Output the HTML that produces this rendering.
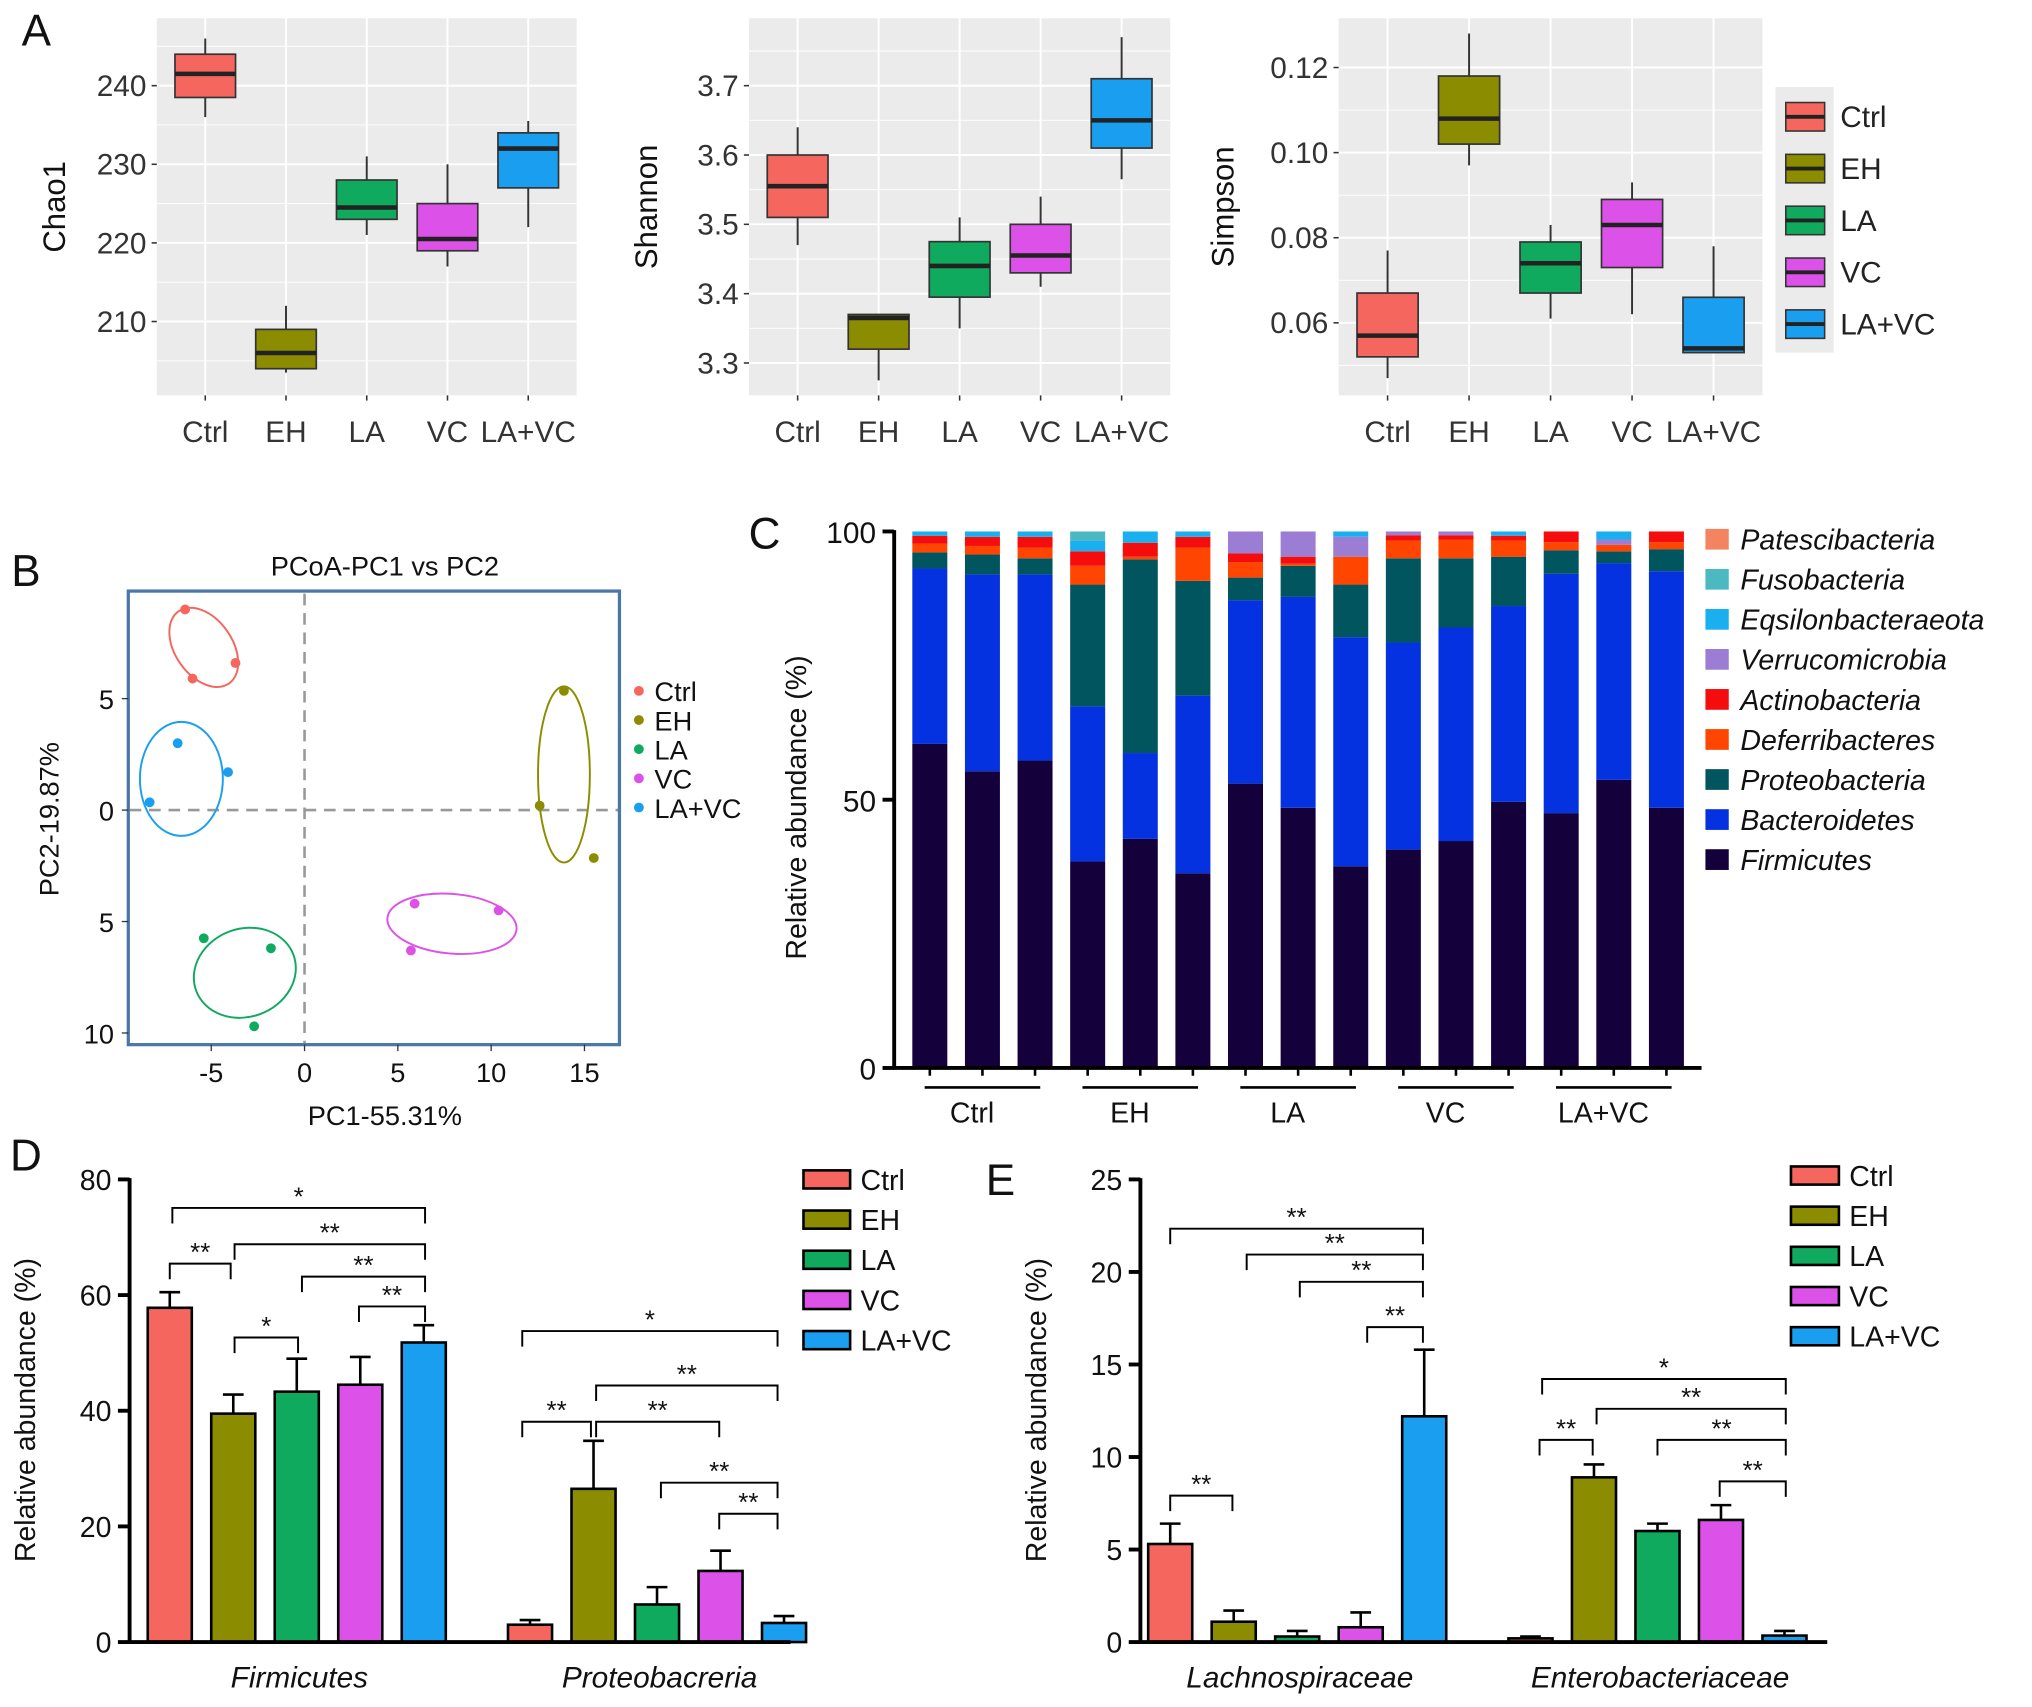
<!DOCTYPE html>
<html><head><meta charset="utf-8"><style>
html,body{margin:0;padding:0;background:#fff}
svg{display:block;font-family:"Liberation Sans",sans-serif}
</style></head><body>
<svg id="fig" width="2032" height="1707" viewBox="0 0 1568 1317" xmlns="http://www.w3.org/2000/svg"></svg>
<script>
// ---------- DATA ----------
const groups=["Ctrl","EH","LA","VC","LA+VC"];
const groupColors=["#f4665e","#8c8c00","#0faa5e","#dc52e8","#1a9ff0"];
// Panel A boxplots: [lo,q1,med,q3,hi]
const chao1=[[236,238.5,241.5,244,246],[203.5,204,206,209,212],[221,223,224.5,228,231],[217,219,220.5,225,230],[222,227,232,234,235.5]];
const shannon=[[3.47,3.51,3.555,3.60,3.64],[3.275,3.32,3.365,3.37,3.37],[3.35,3.395,3.44,3.475,3.51],[3.41,3.43,3.455,3.50,3.54],[3.565,3.61,3.65,3.71,3.77]];
const simpson=[[0.047,0.052,0.057,0.067,0.077],[0.097,0.102,0.108,0.118,0.128],[0.061,0.067,0.074,0.079,0.083],[0.062,0.073,0.083,0.089,0.093],[0.053,0.053,0.054,0.066,0.078]];
const chaoTicks=[210,220,230,240];
const shannonTicks=[3.3,3.4,3.5,3.6,3.7];
const simpsonTicks=[0.06,0.08,0.10,0.12];
// Panel B PCoA points [pc1,pc2]
const pcoaCtrl=[[-6.4,9.0],[-6.0,5.9],[-3.7,6.6]];
const pcoaEH=[[13.9,5.35],[12.6,0.2],[15.5,-2.15]];
const pcoaLA=[[-5.4,-5.75],[-1.8,-6.2],[-2.7,-9.7]];
const pcoaVC=[[5.9,-4.2],[10.4,-4.5],[5.7,-6.3]];
const pcoaLAVC=[[-6.8,3.0],[-4.1,1.7],[-8.3,0.35]];
const pcoaCenters=[[-5.4,7.3],[13.9,1.6],[-3.2,-7.3],[7.9,-5.1],[-6.6,1.4]];
const pcXTicks=[-5,0,5,10,15];
const pcYTicks=[5,0,-5,-10];
// Panel C stacked
const phyla=["Firmicutes","Bacteroidetes","Proteobacteria","Deferribacteres","Actinobacteria","Verrucomicrobia","Eqsilonbacteraeota","Fusobacteria","Patescibacteria"];
const phylaColors=["#14003a","#0532e0","#00555f","#ff4500","#f50c0c","#9b7dd4","#1ab0f0","#4bb8c2","#f4845f"];
const firmicutes=[60.4,55.3,57.3,38.5,42.7,36.3,53,48.5,37.6,40.7,42.3,49.6,47.5,53.7,48.5];
const bacteroidetes=[32.7,36.7,34.7,28.9,16,33.1,34.2,39.3,42.7,38.6,39.8,36.5,44.6,40.4,44.1];
const proteobacteria=[3,3.7,3,22.7,36.1,21.4,4.2,5.8,9.8,15.7,12.9,9.2,4.4,2.2,4.1];
const deferribacteres=[1.6,1.6,2,3.5,0.5,6.2,2.9,0.4,5.2,3.3,3.5,3,1.5,1.2,1.3];
const actinobacteria=[1.5,1.7,2,2.7,2.6,2,1.6,1.3,0,1,0.8,0.9,2,0,2];
const verrucomicrobia=[0,0,0,0,0,0,4.1,4.7,3.7,0.7,0.7,0,0,1,0];
const eqsilon=[0.8,1,1,2,2.1,1,0,0,1,0,0,0.8,0,1.5,0];
const fusobacteria=[0,0,0,1.7,0,0,0,0,0,0,0,0,0,0,0];
const patescibacteria=[0,0,0,0,0,0,0,0,0,0,0,0,0,0,0];
const cTicks=[0,50,100];
// Panel D
const dFirm=[57.8,39.5,43.3,44.5,51.8], dFirmErr=[60.5,42.8,49,49.3,54.8];
const dProt=[3.0,26.5,6.5,12.3,3.3], dProtErr=[3.8,34.8,9.5,15.8,4.5];
const dTicks=[0,20,40,60,80];
// Panel E
const eLach=[5.3,1.1,0.3,0.8,12.2], eLachErr=[6.4,1.7,0.6,1.6,15.8];
const eEnt=[0.2,8.9,6.0,6.6,0.35], eEntErr=[0.3,9.6,6.4,7.4,0.6];
const eTicks=[0,5,10,15,20,25];

// ---------- HELPERS ----------
const NS="http://www.w3.org/2000/svg";
const svg=document.getElementById("fig");
function mk(tag,attrs,parent){const e=document.createElementNS(NS,tag);for(const k in attrs)e.setAttribute(k,attrs[k]);(parent||svg).appendChild(e);return e;}
function tx(s,x,y,size,anchor,parent,extra){const e=mk("text",Object.assign({x:x,y:y,"font-size":size,"text-anchor":anchor||"middle",fill:"#111"},extra||{}),parent);e.textContent=s;return e;}
function lin(vA,pA,vB,pB){return v=>pA+(v-vA)*(pB-pA)/(vB-vA);}

[["A",28,35],["B",20,452],["C",590,423],["D",20,903],["E",772,922]].forEach(p=>{
  const t=tx(p[0],p[1],p[2],34,"middle");
  
  
});

// ---------- PANEL A ----------
function boxPanel(name,x0,x1,y0,y1,sc,ticks,minor,data,fmt,title,titleX){
  const g=mk("g",{});
  
  
  const bg=mk("rect",{x:x0,y:y0,width:x1-x0,height:y1-y0,fill:"#ebebeb"},g);
  
  
  minor.forEach(v=>{if(sc(v)>y0&&sc(v)<y1)mk("line",{x1:x0,x2:x1,y1:sc(v),y2:sc(v),stroke:"#fff","stroke-width":0.7},g);});
  const step=(x1-x0)/5.2;
  const cx=i=>x0+0.6*step+i*step;
  ticks.forEach(v=>{
    mk("line",{x1:x0,x2:x1,y1:sc(v),y2:sc(v),stroke:"#fff","stroke-width":1.5},g);
    mk("line",{x1:x0-4,x2:x0,y1:sc(v),y2:sc(v),stroke:"#333","stroke-width":1.2},g);
    const t=tx(fmt(v),x0-8,sc(v)+8,23,"end",g,{fill:"#333"});
    
    
  });
  groups.forEach((gr,i)=>{
    mk("line",{x1:cx(i),x2:cx(i),y1:y0,y2:y1,stroke:"#fff","stroke-width":1.5},g);
    mk("line",{x1:cx(i),x2:cx(i),y1:y1,y2:y1+4,stroke:"#333","stroke-width":1.2},g);
    const t=tx(gr,cx(i),y1+36,23,"middle",g,{fill:"#333"});
    
    
  });
  data.forEach((d,i)=>{
    const w=step*0.75,x=cx(i);
    mk("line",{x1:x,x2:x,y1:sc(d[0]),y2:sc(d[4]),stroke:"#333","stroke-width":1.5},g);
    const b=mk("rect",{x:x-w/2,y:sc(d[3]),width:w,height:sc(d[1])-sc(d[3]),fill:groupColors[i],stroke:"#333","stroke-width":1.3},g);
    
    
    mk("line",{x1:x-w/2,x2:x+w/2,y1:sc(d[2]),y2:sc(d[2]),stroke:"#222","stroke-width":3.5},g);
  });
  const tt=tx(title,titleX,(y0+y1)/2,24,"middle",g,{transform:`rotate(-90 ${titleX} ${(y0+y1)/2})`});
  
  
}
boxPanel("chao1",121,445,14,305,lin(240,66,210,248),chaoTicks,[205,215,225,235,245],chao1,v=>String(v),"Chao1",50);
boxPanel("shannon",578,903,14,305,lin(3.7,66,3.3,280),shannonTicks,[3.25,3.35,3.45,3.55,3.65,3.75],shannon,v=>v.toFixed(1),"Shannon",507);
boxPanel("simpson",1033,1360,14,305,lin(0.12,52,0.06,249),simpsonTicks,[0.05,0.07,0.09,0.11],simpson,v=>v.toFixed(2),"Simpson",952);
const legA=mk("g",{});


mk("rect",{x:1370,y:67,width:45,height:205,fill:"#ebebeb"},legA);
groups.forEach((gr,i)=>{
  const y=90+i*40;
  const r=mk("rect",{x:1378,y:y-11,width:30,height:22,fill:groupColors[i],stroke:"#333","stroke-width":1.2},legA);
  
  
  mk("line",{x1:1378,x2:1408,y1:y,y2:y,stroke:"#222","stroke-width":3},legA);
  const t=tx(gr,1420,y+8,23,"start",legA,{fill:"#222"});
  
  
});

// ---------- PANEL B ----------
const bx=lin(0,235,15,451), by=lin(0,625,5,539);
const gB=mk("g",{});


const tB=tx("PCoA-PC1 vs PC2",297,444,21,"middle",gB);


mk("line",{x1:bx(0),x2:bx(0),y1:458,y2:805,stroke:"#999","stroke-width":2,"stroke-dasharray":"9,6"},gB);
mk("line",{x1:100,x2:477,y1:by(0),y2:by(0),stroke:"#999","stroke-width":2,"stroke-dasharray":"9,6"},gB);
const frame=mk("rect",{x:99,y:456,width:379,height:350,fill:"none",stroke:"#4a76a8","stroke-width":2.5},gB);


pcXTicks.forEach(v=>{mk("line",{x1:bx(v),x2:bx(v),y1:806,y2:811,stroke:"#333"},gB);
  const t=tx(String(v),bx(v),835,21,"middle",gB);
  
  });
pcYTicks.forEach(v=>{mk("line",{x1:94,x2:99,y1:by(v),y2:by(v),stroke:"#333"},gB);
  const t=tx(String(Math.abs(v)),88,by(v)+8,21,"end",gB);
  
  });
const xt=tx("PC1-55.31%",297,868,21,"middle",gB);


const yt=tx("PC2-19.87%",45,632,21,"middle",gB,{transform:"rotate(-90 45 632)"});


const ellShape=[[22,34,-35],[20,68,0],[40,34,-20],[50,23,5],[32,44,0]];
const pcoaSets=[pcoaCtrl,pcoaEH,pcoaLA,pcoaVC,pcoaLAVC];
pcoaSets.forEach((pts,i)=>{
  const c=pcoaCenters[i],s=ellShape[i];
  const e=mk("ellipse",{cx:bx(c[0]),cy:by(c[1]),rx:s[0],ry:s[1],fill:"none",stroke:groupColors[i],"stroke-width":1.5,transform:`rotate(${s[2]} ${bx(c[0])} ${by(c[1])})`},gB);
  
  
  pts.forEach(p=>{
    const d=mk("circle",{cx:bx(p[0]),cy:by(p[1]),r:3.8,fill:groupColors[i]},gB);
    
    
  });
});
groups.forEach((gr,i)=>{
  const y=533+i*22.5;
  mk("circle",{cx:493,cy:y,r:3.8,fill:groupColors[i]},gB);
  const t=tx(gr,505,y+8,21,"start",gB);
  
  
});

// ---------- PANEL C ----------
const cy=lin(0,824,100,410);
const gC=mk("g",{});


const layers=[firmicutes,bacteroidetes,proteobacteria,deferribacteres,actinobacteria,verrucomicrobia,eqsilon,fusobacteria,patescibacteria];
const cx0=717.5,cstep=40.6,cw=27;
firmicutes.forEach((_,b)=>{
  let acc=0;
  layers.forEach((arr,l)=>{
    const v=arr[b]; if(v<=0)return;
    const top=Math.min(acc+v,100);
    const r=mk("rect",{x:cx0+b*cstep-cw/2,y:cy(top),width:cw,height:cy(acc)-cy(top),fill:phylaColors[l]},gC);
    
    
    acc=top;
  });
  mk("line",{x1:cx0+b*cstep,x2:cx0+b*cstep,y1:824,y2:830,stroke:"#000","stroke-width":2},gC);
});
mk("line",{x1:690,x2:690,y1:409,y2:825,stroke:"#000","stroke-width":3},gC);
mk("line",{x1:689,x2:1313,y1:824,y2:824,stroke:"#000","stroke-width":3},gC);
cTicks.forEach(v=>{mk("line",{x1:681,x2:690,y1:cy(v),y2:cy(v),stroke:"#000","stroke-width":3},gC);
  const t=tx(String(v),676,cy(v)+9,23,"end",gC);
  
  });
const cyt=tx("Relative abundance (%)",622,623,22,"middle",gC,{transform:"rotate(-90 622 623)"});


groups.forEach((gr,i)=>{
  const a=cx0+i*3*cstep-4,b2=cx0+(i*3+2)*cstep+4;
  mk("line",{x1:a,x2:b2,y1:839,y2:839,stroke:"#000","stroke-width":2},gC);
  const t=tx(gr,(a+b2)/2-8,866,22,"middle",gC);
  
  
});
const legOrder=[8,7,6,5,4,3,2,1,0];
legOrder.forEach((l,k)=>{
  const y=416+k*30.9;
  mk("rect",{x:1316,y:y-8,width:18,height:16,fill:phylaColors[l]},gC);
  const t=tx(phyla[l],1343,y+8,22,"start",gC,{"font-style":"italic"});
  
  
});

// ---------- PANELS D & E ----------
function barPanel(name,x0,x1,sc,ticks,setVals,setErrs,setCenters,setNames,brackets,title,legX,legY,legW,legStep){
  const g=mk("g",{});
  
  
  setVals.forEach((vals,s)=>{
    vals.forEach((v,i)=>{
      const x=setCenters[s]+i*49;
      const e=setErrs[s][i];
      mk("line",{x1:x,x2:x,y1:sc(v),y2:sc(e),stroke:"#000","stroke-width":2},g);
      mk("line",{x1:x-8,x2:x+8,y1:sc(e),y2:sc(e),stroke:"#000","stroke-width":2},g);
      const r=mk("rect",{x:x-17,y:sc(v),width:34,height:sc(0)-sc(v),fill:groupColors[i],stroke:"#000","stroke-width":2},g);
      
      
    });
    const t=tx(setNames[s],setCenters[s]+100,1302,23,"middle",g,{"font-style":"italic"});
    
    
  });
  mk("line",{x1:x0,x2:x0,y1:sc(ticks[ticks.length-1])-1,y2:sc(0)+1,stroke:"#000","stroke-width":3},g);
  mk("line",{x1:x0,x2:x1,y1:sc(0),y2:sc(0),stroke:"#000","stroke-width":3},g);
  ticks.forEach(v=>{mk("line",{x1:x0-9,x2:x0,y1:sc(v),y2:sc(v),stroke:"#000","stroke-width":3},g);
    const t=tx(String(v),x0-14,sc(v)+8,22,"end",g);
    
    });
  const yx=x0-73,ym=1088;
  const t=tx(title,yx,ym,22,"middle",g,{transform:`rotate(-90 ${yx} ${ym})`});
  
  
  brackets.forEach(b=>{
    mk("polyline",{points:`${b[0]},${b[2]+12} ${b[0]},${b[2]} ${b[1]},${b[2]} ${b[1]},${b[2]+12}`,fill:"none",stroke:"#000","stroke-width":1.5},g);
    const s=tx(b[3],(b[0]+b[1])/2,b[2]-2,20,"middle",g);
    
    
  });
  groups.forEach((gr,i)=>{
    const y=legY+i*legStep;
    mk("rect",{x:legX,y:y-7,width:legW,height:14,fill:groupColors[i],stroke:"#000","stroke-width":2},g);
    const l=tx(gr,legX+legW+8,y+8,22,"start",g);
    
    
  });
}
barPanel("d",100,610,lin(0,1267,80,910),dTicks,[dFirm,dProt],[dFirmErr,dProtErr],[131,409],["Firmicutes","Proteobacreria"],
 [[133,328,932,"*"],[181,328,960,"**"],[131,178,975,"**"],[233,328,985,"**"],[277,328,1008,"**"],[181,230,1032,"*"],
  [403,600,1027,"*"],[460,600,1069,"**"],[403,456,1097,"**"],[460,555,1097,"**"],[510,600,1144,"**"],[555,600,1168,"**"]],
 "Relative abundance (%)",620,910,36,31);
barPanel("e",880,1410,lin(0,1267,25,910),eTicks,[eLach,eEnt],[eLachErr,eEntErr],[903,1181],["Lachnospiraceae","Enterobacteriaceae"],
 [[903,1098,948,"**"],[962,1098,968,"**"],[1003,1098,989,"**"],[1055,1098,1024,"**"],[903,951,1154,"**"],
  [1190,1378,1064,"*"],[1232,1378,1087,"**"],[1279,1378,1111,"**"],[1188,1229,1111,"**"],[1327,1378,1143,"**"]],
 "Relative abundance (%)",1382,907,37,31);
</script>
</body></html>
